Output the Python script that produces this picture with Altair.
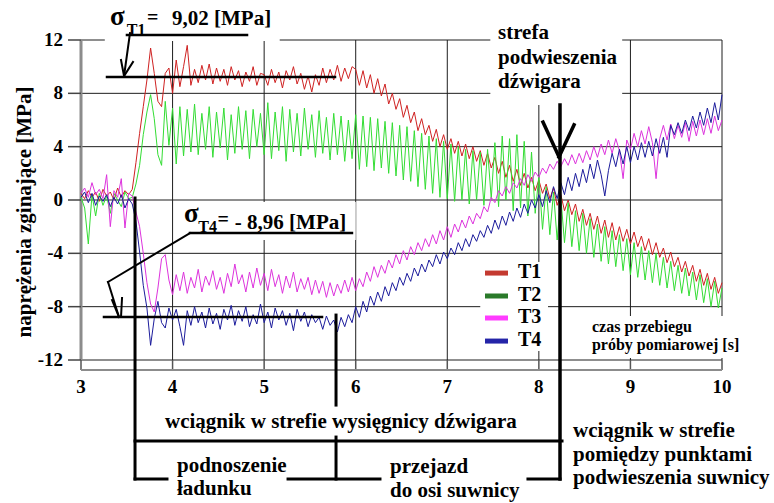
import altair as alt
import pandas as pd

# ---- measured series (MPa), sampled every 0.04 s from t = 3.00 s to 10.00 s ----
T1 = [0.5, 0.1, 0.7, 0.2, 0.6, -0.1, 0.8, 0.3, 0.6, 0.0, 0.9, 0.2, 0.7, 0.4, 0.8, 2.8, 5.0, 7.0, 9.0, 11.4, 9.5, 7.4, 7.0, 9.5, 9.9,
      8.0, 10.5, 8.5, 10.0, 11.6, 8.6, 9.8, 8.8, 10.1, 9.0, 10.2, 8.7, 9.9, 8.9, 9.8, 8.6, 10.0, 9.0, 9.7, 8.5, 9.6, 8.9, 10.0, 8.6, 9.5,
      9.4, 8.6, 9.8, 8.8, 9.6, 8.4, 9.7, 9.0, 10.0, 8.7, 9.5, 8.3, 9.3, 8.1, 9.4, 8.6, 9.9, 8.8, 9.8, 9.0, 10.1, 8.9, 9.9, 9.1, 10.0,
      9.8, 8.6, 9.7, 8.4, 9.4, 8.0, 9.1, 7.8, 8.7, 7.2, 8.0, 6.8, 7.6, 6.2, 7.1, 5.8, 6.6, 5.2, 6.1, 4.9, 5.6, 4.4, 5.3, 4.0, 4.9,
      3.8, 4.6, 3.5, 4.4, 3.3, 4.2, 3.1, 4.0, 2.9, 3.7, 2.6, 3.5, 2.4, 3.2, 2.0, 2.9, 1.7, 2.6, 1.4, 2.3, 1.1, 2.0, 0.9, 1.7, 0.7,
      1.5, 0.5, 1.2, 0.1, 0.9, -0.4, 0.4, -0.8, 0.0, -1.1, -0.3, -1.6, -0.7, -1.9, -1.0, -2.2, -1.2, -2.5, -1.5, -2.8, -1.7, -3.0, -2.0, -3.1, -2.2,
      -3.3, -2.4, -3.5, -2.7, -3.8, -2.9, -4.1, -3.2, -4.3, -3.6, -4.7, -3.9, -5.0, -4.3, -5.4, -4.6, -5.7, -4.9, -6.1, -5.2, -6.4, -5.5, -6.7, -5.8, -7.0,
      -6.2]
T2 = [0.2, -0.6, -3.3, 0.4, -1.2, 0.5, -0.4, 0.3, -1.0, 0.5, 0.0, -0.5, 0.6, 0.1, 0.2, 1.2, 2.6, 4.9, 6.6, 7.9, 6.1, 3.4, 2.6, 7.4, 4.1,
      6.9, 2.7, 7.0, 3.3, 6.8, 3.6, 7.2, 3.4, 6.5, 3.8, 7.0, 3.2, 6.6, 3.9, 6.9, 3.0, 6.4, 3.5, 7.0, 3.8, 6.7, 3.1, 6.8, 4.0, 6.5,
      3.4, 7.3, 3.1, 6.6, 3.7, 7.0, 2.9, 6.8, 3.6, 6.5, 3.3, 6.9, 3.8, 6.4, 3.2, 6.7, 3.5, 6.2, 3.0, 6.5, 3.4, 6.3, 2.9, 6.0, 3.1,
      6.4, 2.3, 6.3, 2.5, 6.2, 2.2, 6.1, 2.4, 5.9, 2.0, 5.8, 1.8, 5.6, 1.5, 5.5, 1.4, 5.2, 1.0, 5.0, 0.8, 4.8, 0.5, 4.6, 0.2, 4.4,
      0.1, 4.2, -0.1, 4.0, 0.0, 3.8, -0.3, 3.7, 0.0, 3.6, -0.4, 3.8, 0.1, 4.3, -0.5, 4.8, 0.0, 4.6, -0.8, 4.9, -0.6, 4.4, -1.2, 3.6, -1.0,
      1.8, -2.2, 1.0, -2.6, 0.6, -3.0, 0.2, -3.2, -0.2, -3.5, -0.8, -3.8, -1.0, -4.0, -1.4, -4.3, -1.8, -4.6, -2.0, -4.8, -2.3, -5.0, -2.6, -5.3, -2.9,
      -5.6, -3.2, -5.8, -3.5, -6.0, -3.8, -6.2, -4.0, -6.4, -4.3, -6.6, -4.6, -6.8, -4.9, -7.0, -5.1, -7.2, -5.4, -7.5, -5.6, -7.7, -5.9, -8.0, -6.1, -8.1,
      -6.6]
T3 = [0.5, 0.9, 0.2, 1.3, 0.4, 0.8, 0.1, 1.9, -2.0, 0.7, 0.2, 1.6, -2.1, 0.5, 0.3, -0.9, -2.0, -4.0, -6.2, -7.8, -8.4, -6.6, -4.4, -4.1, -6.0,
      -7.1, -5.6, -6.8, -5.4, -7.0, -5.8, -6.6, -5.2, -6.9, -5.7, -6.4, -5.3, -6.7, -5.8, -7.0, -5.5, -6.5, -4.8, -6.3, -5.6, -6.9, -5.4, -6.6, -5.1, -6.4,
      -5.5, -6.8, -5.2, -6.5, -5.6, -7.0, -5.7, -6.6, -5.4, -6.9, -5.9, -6.7, -5.8, -7.1, -6.0, -7.0, -6.1, -7.3, -6.2, -7.2, -6.3, -7.0, -6.0, -6.9, -5.8,
      -6.8, -5.9, -6.5, -5.4, -6.1, -5.0, -5.8, -4.9, -5.5, -4.5, -5.1, -4.1, -4.8, -3.8, -4.5, -3.5, -4.1, -3.2, -3.8, -2.9, -3.5, -2.6, -3.3, -2.3, -3.0,
      -2.0, -2.8, -1.8, -2.4, -1.5, -2.1, -1.2, -1.8, -1.0, -1.4, -0.5, -0.9, 0.2, -0.2, 0.7, 0.3, 1.0, 0.5, 1.3, 0.9, 1.6, 1.1, 1.9, 1.4, 2.1,
      1.7, 2.4, 2.0, 2.7, 2.3, 2.9, 2.5, 3.1, 2.6, 3.4, 2.7, 3.5, 2.8, 3.7, 3.0, 4.0, 3.2, 4.2, 3.4, 4.5, 3.5, 4.6, 3.7, 1.6, 4.5,
      3.8, 5.0, 4.0, 5.2, 4.2, 5.5, 4.3, 1.6, 4.6, 5.6, 4.5, 5.7, 4.6, 5.6, 4.7, 5.8, 4.4, 5.9, 4.8, 6.0, 4.9, 6.1, 5.0, 6.3, 5.2,
      6.0]
T4 = [0.2, 0.6, -0.2, 0.5, -0.4, 0.3, -0.1, 0.4, -0.5, 0.2, -0.3, 0.4, -0.6, 0.1, -0.3, -1.6, -3.9, -6.4, -8.1, -10.9, -8.9, -7.6, -9.2, -9.6, -8.1,
      -9.0, -8.2, -9.5, -10.9, -8.3, -9.4, -8.0, -9.2, -8.4, -9.6, -8.1, -9.3, -8.5, -9.7, -8.2, -9.0, -7.9, -9.4, -8.3, -9.1, -8.0, -9.5, -8.6, -9.3, -7.8,
      -9.2, -8.4, -9.6, -8.1, -9.0, -8.3, -9.4, -8.5, -9.8, -8.2, -9.1, -8.4, -9.5, -8.6, -9.2, -8.8, -9.7, -8.7, -9.4, -9.0, -9.9, -8.8, -9.5, -8.6, -9.2,
      -8.0, -8.8, -7.6, -8.4, -7.2, -7.9, -6.9, -7.6, -6.5, -7.2, -6.2, -6.8, -5.8, -6.4, -5.5, -6.1, -5.1, -5.7, -4.8, -5.4, -4.5, -5.0, -4.1, -4.8, -3.9,
      -4.4, -3.6, -4.1, -3.2, -3.8, -2.9, -3.5, -2.6, -3.1, -2.3, -2.8, -1.9, -2.5, -1.5, -2.2, -1.2, -1.9, -0.9, -1.6, -0.6, -1.3, -0.3, -1.0, 0.0, -0.6,
      0.4, -0.5, 0.7, -0.2, 1.0, 0.1, 1.3, 0.4, 1.7, 0.7, 2.0, 1.0, 2.3, 1.3, 2.7, 1.6, 3.0, 1.9, 0.3, 2.2, 3.5, 2.5, 3.8, 2.7, 4.0,
      2.8, 4.0, 3.0, 4.3, 3.2, 4.4, 3.3, 4.6, 3.5, 4.7, 3.2, 5.6, 4.9, 5.8, 5.0, 6.0, 5.2, 6.3, 5.4, 6.6, 5.6, 6.9, 5.8, 7.3, 6.0,
      7.9]

SERIES = ["T1", "T2", "T3", "T4"]
TRACE_COLORS = ["#cf2222", "#33dd33", "#dd33dd", "#1c1c9c"]
LEGEND_COLORS = ["#c43a30", "#2a7a2a", "#ff3cff", "#2424a8"]
X_TICKS = [3, 4, 5, 6, 7, 8, 9, 10]
Y_TICKS = [-12, -8, -4, 0, 4, 8, 12]
Y_TITLE = "naprężenia zginające [MPa]"
START, STEP = 3.0, 0.04
T_MIN, T_MAX, V_MIN, V_MAX = 3, 10, -12, 12

# ---- annotations, in data units (time [s], stress [MPa]) ----
# white label boxes: t1, t2, v1, v2
BOXES = [
    (3.26, 5.17, 15.0, 11.93),     # sigma T1 label
    (4.11, 6.00, -0.15, -3.0),     # sigma T4 label
    (7.47, 8.91, 13.7, 7.13),      # strefa podwieszenia
    (7.36, 8.10, -4.65, -11.33),   # legend
    (8.54, 10.2, -8.7, -11.85),    # czas przebiegu
]
# black line segments: t1, v1, t2, v2, width
SEGMENTS = [
    (3.284, 9.22, 5.774, 9.22, 2.5),      # sigma T1 level
    (3.502, 12.38, 4.813, 12.38, 2.5),    # underline T1
    (3.535, 12.52, 3.470, 9.30, 2.0),     # arrow shaft
    (3.437, 10.50, 3.470, 9.30, 2.0),
    (3.568, 10.35, 3.470, 9.30, 2.0),
    (3.251, -8.78, 5.632, -8.78, 2.5),    # sigma T4 level
    (4.190, -2.48, 5.959, -2.48, 2.5),    # underline T4
    (4.190, -2.48, 3.295, -6.15, 2.0),    # leader
    (3.295, -6.15, 3.415, -8.78, 2.0),    # arrow shaft
    (3.339, -7.50, 3.415, -8.78, 2.0),
    (3.448, -7.35, 3.437, -8.78, 2.0),
    (3.590, 0.15, 3.590, -20.93, 3.0),    # bracket start
    (3.590, -18.08, 8.253, -18.08, 3.0),  # range line
    (3.590, -20.93, 3.939, -20.93, 3.0),
    (5.261, -20.93, 6.265, -20.93, 3.0),
    (7.881, -20.93, 8.231, -20.93, 3.0),
    (5.785, -8.63, 5.785, -15.38, 3.0),
    (5.785, -17.78, 5.785, -20.93, 3.0),
    (8.231, 7.13, 8.231, -20.93, 3.5),    # suspension zone marker
    (8.045, 5.85, 8.220, 3.23, 3.5),
    (8.384, 5.63, 8.220, 3.23, 3.5),
]
# texts: label, t (left edge), v (baseline), font size
TEXTS = [
    ("σ", 3.317, 13.12, 27), ("T1", 3.50, 12.38, 16), ("=", 3.721, 13.2, 20), ("9,02 [MPa]", 3.994, 13.12, 21),
    ("σ", 4.125, -1.65, 27), ("T4", 4.28, -2.40, 16), ("=", 4.49, -1.95, 20), ("- 8,96 [MPa]", 4.680, -2.18, 21),
    ("strefa", 7.554, 12.08, 21), ("podwieszenia", 7.554, 10.2, 21), ("dźwigara", 7.554, 8.4, 21),
    ("T1", 7.772, -5.85, 20), ("T2", 7.772, -7.58, 20), ("T3", 7.772, -9.23, 20), ("T4", 7.772, -10.95, 20),
    ("czas przebiegu", 8.580, -9.9, 16), ("próby pomiarowej [s]", 8.580, -11.25, 16),
    ("wciągnik w strefie wysięgnicy dźwigara", 3.917, -17.1, 21),
    ("podnoszenie", 4.048, -20.4, 21), ("ładunku", 4.048, -22.13, 21),
    ("przejazd", 6.374, -20.48, 21), ("do osi suwnicy", 6.374, -22.28, 21),
    ("wciągnik w strefie", 8.373, -17.78, 21), ("pomiędzy punktami", 8.373, -19.58, 21),
    ("podwieszenia suwnicy", 8.373, -21.3, 21),
]
LEGEND_T = (7.412, 7.663)
LEGEND_V = [-5.48, -7.2, -8.85, -10.58]

FONT = "Liberation Serif"
W, H = 641, 320
PX_T = W / (T_MAX - T_MIN)   # pixels per second
PX_V = H / (V_MAX - V_MIN)   # pixels per MPa

times = [round(START + i * STEP, 2) for i in range(len(T1))]
rows = []
for name, vals in zip(SERIES, [T1, T2, T3, T4]):
    for t, v in zip(times, vals):
        rows.append({"t": t, "v": v, "s": name})
df = pd.DataFrame(rows)

xs = alt.Scale(domain=[T_MIN, T_MAX], nice=False, zero=False)
ys = alt.Scale(domain=[V_MIN, V_MAX], nice=False, zero=False)


def X(f):
    return alt.X(f, scale=xs, axis=None)


def Y(f):
    return alt.Y(f, scale=ys, axis=None)


# ---- hand-built axes (grid, domain, ticks, labels) from the tick arrays ----
vgrid = pd.DataFrame({"t": X_TICKS, "v1": [V_MIN] * len(X_TICKS), "v2": [V_MAX] * len(X_TICKS)})
hgrid = pd.DataFrame({"v": Y_TICKS, "t1": [T_MIN] * len(Y_TICKS), "t2": [T_MAX] * len(Y_TICKS)})
grid_v = alt.Chart(vgrid).mark_rule(color="#1e1e1e", strokeWidth=1).encode(x=X("t:Q"), y=Y("v1:Q"), y2="v2:Q")
grid_h = alt.Chart(hgrid).mark_rule(color="#1e1e1e", strokeWidth=1).encode(y=Y("v:Q"), x=X("t1:Q"), x2="t2:Q")
ydomain = alt.Chart(pd.DataFrame({"t": [T_MIN], "v1": [V_MIN], "v2": [V_MAX]})).mark_rule(
    color="#8c8c8c", strokeWidth=3).encode(x=X("t:Q"), y=Y("v1:Q"), y2="v2:Q")
ytick_df = pd.DataFrame({"v": Y_TICKS, "t1": [T_MIN - 13 / PX_T] * len(Y_TICKS), "t2": [T_MIN] * len(Y_TICKS),
                         "tl": [T_MIN - 18 / PX_T] * len(Y_TICKS), "lab": [str(v) for v in Y_TICKS]})
yticks = alt.Chart(ytick_df).mark_rule(color="#444444", strokeWidth=1.5, clip=False).encode(
    y=Y("v:Q"), x=X("t1:Q"), x2="t2:Q")
ylabels = alt.Chart(ytick_df).mark_text(
    align="right", baseline="middle", font=FONT, fontWeight="bold", fontSize=19, color="black", clip=False
).encode(y=Y("v:Q"), x=X("tl:Q"), text="lab:N")
xaxis_v = V_MIN - 10 / PX_V
xtick_df = pd.DataFrame({"t": X_TICKS, "v1": [V_MIN] * len(X_TICKS), "v2": [xaxis_v] * len(X_TICKS),
                         "vl": [V_MIN - 27 / PX_V] * len(X_TICKS), "lab": [str(t) for t in X_TICKS]})
xticks = alt.Chart(xtick_df).mark_rule(color="#555555", strokeWidth=1.5, clip=False).encode(
    x=X("t:Q"), y=Y("v1:Q"), y2="v2:Q")
xlabels = alt.Chart(xtick_df).mark_text(
    align="center", baseline="middle", font=FONT, fontWeight="bold", fontSize=19, color="black", clip=False
).encode(x=X("t:Q"), y=Y("vl:Q"), text="lab:N")
xaxis_line = alt.Chart(pd.DataFrame({"t1": [T_MIN], "t2": [T_MAX], "v": [xaxis_v]})).mark_rule(
    color="#8c8c8c", strokeWidth=2, clip=False).encode(x=X("t1:Q"), x2="t2:Q", y=Y("v:Q"))
ytitle = alt.Chart(pd.DataFrame({"lab": [Y_TITLE], "t": [T_MIN - 50 / PX_T], "v": [-12 / PX_V]})).mark_text(
    angle=270, align="center", baseline="alphabetic", font=FONT, fontWeight="bold", fontSize=21,
    color="black", clip=False
).encode(x=X("t:Q"), y=Y("v:Q"), text="lab:N")

boxes = alt.Chart(pd.DataFrame(BOXES, columns=["t1", "t2", "v1", "v2"])).mark_rect(
    color="white", clip=False
).encode(x=X("t1:Q"), x2="t2:Q", y=Y("v1:Q"), y2="v2:Q")

traces = alt.Chart(df).mark_line(strokeWidth=1, clip=False).encode(
    x=X("t:Q"), y=Y("v:Q"),
    color=alt.Color("s:N", scale=alt.Scale(domain=SERIES, range=TRACE_COLORS), legend=None),
)

segs = alt.Chart(pd.DataFrame(SEGMENTS, columns=["t1", "v1", "t2", "v2", "w"])).mark_rule(
    color="black", strokeCap="square", clip=False
).encode(
    x=X("t1:Q"), x2="t2:Q", y=Y("v1:Q"), y2="v2:Q",
    strokeWidth=alt.StrokeWidth("w:Q", scale=None, legend=None),
)

leg_df = pd.DataFrame({"s": SERIES, "c": LEGEND_COLORS, "v": LEGEND_V,
                       "t1": [LEGEND_T[0]] * 4, "t2": [LEGEND_T[1]] * 4})
legend = alt.Chart(leg_df).mark_rule(strokeWidth=5, clip=False).encode(
    x=X("t1:Q"), x2="t2:Q", y=Y("v:Q"),
    color=alt.Color("c:N", scale=None, legend=None),
)

texts = alt.Chart(pd.DataFrame(TEXTS, columns=["label", "t", "v", "fs"])).mark_text(
    align="left", baseline="alphabetic", font=FONT, fontWeight="bold", color="black", clip=False
).encode(
    x=X("t:Q"), y=Y("v:Q"), text="label:N",
    size=alt.Size("fs:Q", scale=None, legend=None),
)

chart = alt.layer(
    grid_v, grid_h, ydomain, yticks, ylabels, xticks, xlabels, xaxis_line, ytitle,
    boxes, traces, segs, legend, texts
).properties(
    width=W, height=H,
    autosize=alt.AutoSizeParams(type="none"),
    padding={"left": 81, "top": 40, "right": 52, "bottom": 143},
    background="white",
).configure_view(strokeWidth=0)

chart.save("out.html", embed_options={"renderer": "svg", "actions": False})
